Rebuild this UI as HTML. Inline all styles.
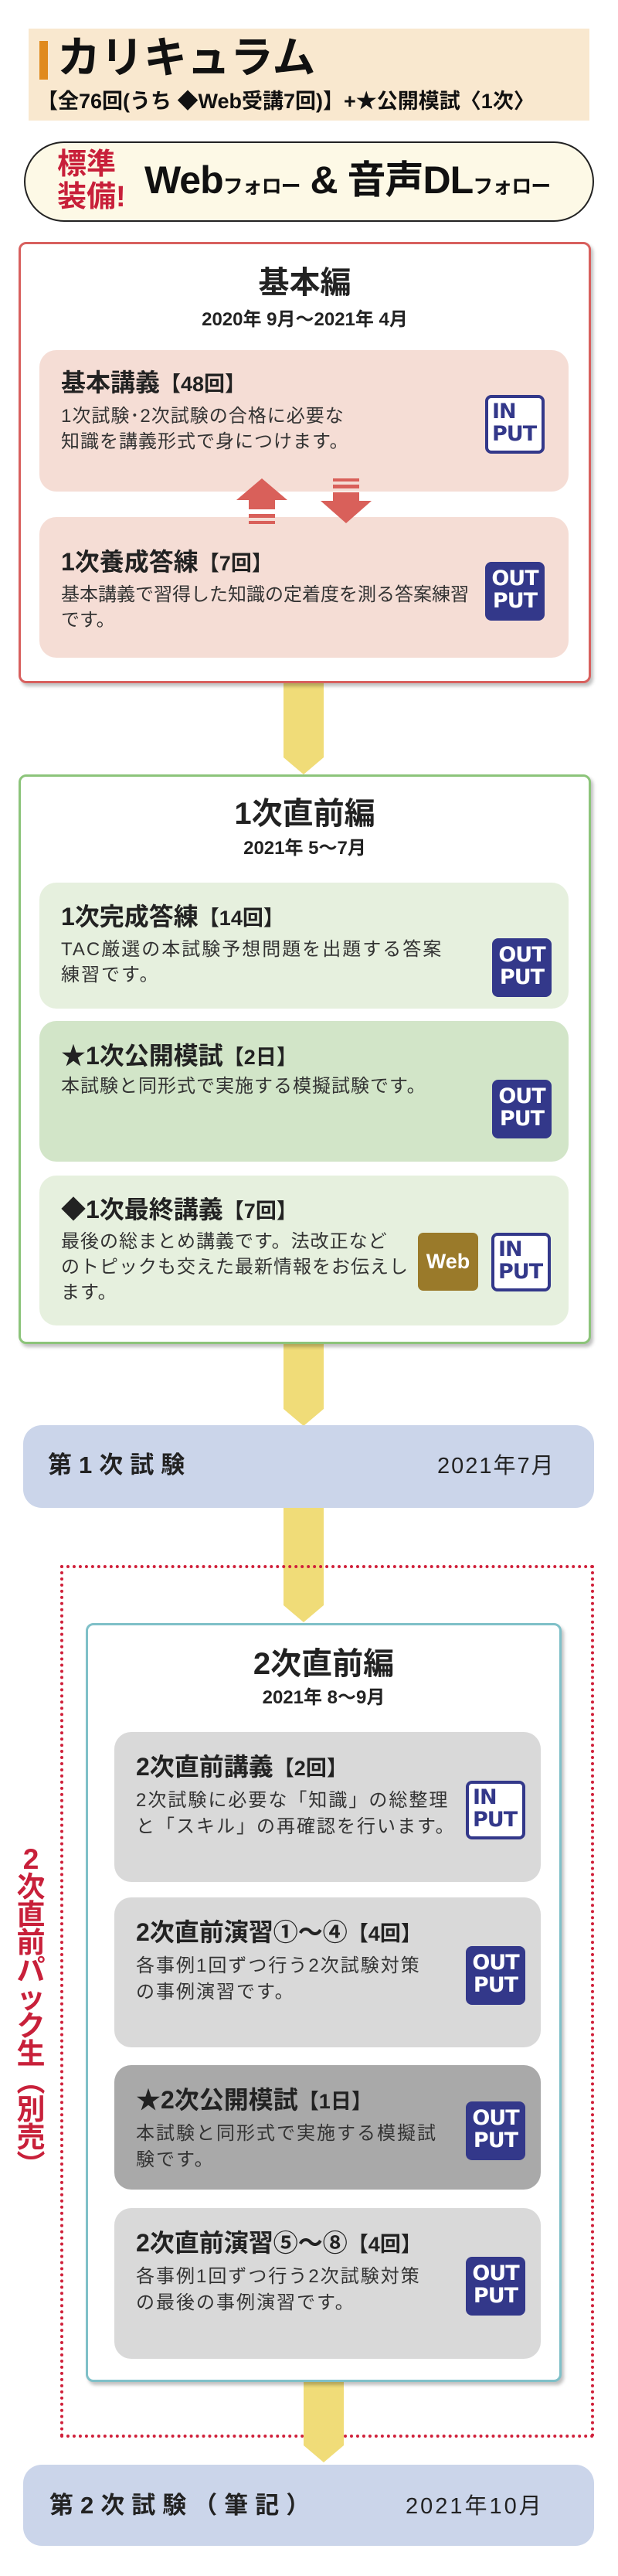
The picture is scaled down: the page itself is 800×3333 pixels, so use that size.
<!DOCTYPE html>
<html><head><meta charset="utf-8">
<style>
*{margin:0;padding:0;box-sizing:border-box}
body{width:800px;height:3333px;position:relative;background:#fff;font-family:"Liberation Sans","Noto Sans CJK JP",sans-serif;color:#222;overflow:hidden}
.a{position:absolute}
.b{font-weight:bold}
.conn{position:absolute;width:52px;background:#f0dc78}
.conn:after{content:"";position:absolute;left:0;bottom:-22px;border-left:26px solid transparent;border-right:26px solid transparent;border-top:22px solid #f0dc78}
.box{position:absolute;background:#fff;border-radius:10px;box-shadow:3px 4px 4px rgba(0,0,0,.25)}
.card{position:absolute;border-radius:22px}
.h{position:absolute;font-weight:bold;font-size:32px;line-height:34px;white-space:nowrap}
.h small{font-size:27px}
.t{position:absolute;font-size:24px;line-height:33px;color:#333;letter-spacing:1px;white-space:nowrap}
.title{position:absolute;left:0;width:100%;text-align:center;font-weight:bold;font-size:40px;line-height:44px}
.date{position:absolute;left:0;width:100%;text-align:center;font-weight:bold;font-size:24px;line-height:28px}
.bd{position:absolute;width:77px;height:76px;border-radius:8px;font-family:"DejaVu Sans",sans-serif;font-weight:bold;font-size:27px;line-height:29px;padding-top:7px;text-align:center;letter-spacing:-1px}
.out{background:#33388a;color:#fff}
.in{background:#fff;border:4px solid #33388a;color:#33388a;text-align:left;padding-left:5px;padding-top:3px}
</style></head><body>

<!-- header -->
<div class="a" style="left:37px;top:37px;width:726px;height:119px;background:#f9e8cf"></div>
<div class="a" style="left:51px;top:53px;width:11px;height:50px;background:#e08a1e"></div>
<div class="a b" style="left:74px;top:42px;font-size:56px;line-height:66px;color:#111">カリキュラム</div>
<div class="a" style="left:48px;top:114px;font-size:27px;line-height:34px;color:#111;white-space:nowrap;font-weight:bold">【全76回(うち ◆Web受講7回)】+★公開模試〈1次〉</div>

<!-- pill -->
<div class="a" style="left:31px;top:183px;width:738px;height:104px;border:2px solid #222;border-radius:52px;background:#fdf9e6"></div>
<div class="a b" style="left:74px;top:192px;font-size:38px;line-height:42px;color:#c8203a">標準<br>装備!</div>
<div class="a b" style="left:187px;top:203px;font-size:50px;line-height:60px;color:#111;white-space:nowrap;letter-spacing:-1px">Web<span style="font-size:26px">フォロー</span> &amp; 音声DL<span style="font-size:26px">フォロー</span></div>

<!-- connector 1 -->
<div class="conn" style="left:367px;top:880px;height:100px"></div>

<!-- 基本編 -->
<div class="box" style="left:24px;top:313px;width:741px;height:571px;border:3px solid #d8605e">
 <div class="title" style="top:28px">基本編</div>
 <div class="date" style="top:84px">2020年 9月～2021年 4月</div>
</div>
<div class="card" style="left:51px;top:453px;width:685px;height:183px;background:#f5ddd5"></div>
<div class="h" style="left:79px;top:478px">基本講義<small>【48回】</small></div>
<div class="t" style="left:79px;top:522px">1次試験･2次試験の合格に必要な<br>知識を講義形式で身につけます。</div>
<div class="bd in" style="left:628px;top:511px">IN<br>PUT</div>
<div class="card" style="left:51px;top:669px;width:685px;height:182px;background:#f5ddd5"></div>
<!-- arrows -->
<svg class="a" style="left:300px;top:615px" width="190" height="72">
 <polygon points="6,32 39,4 72,32 56,32 56,44 22,44 22,32" fill="#d9605a"/>
 <rect x="22" y="50" width="34" height="5" fill="#d9605a"/><rect x="22" y="59" width="34" height="4" fill="#d9605a"/>
 <rect x="131" y="4" width="34" height="4" fill="#d9605a"/><rect x="131" y="12" width="34" height="5" fill="#d9605a"/>
 <polygon points="131,22 165,22 165,33 181,33 148,62 115,33 131,33" fill="#d9605a"/>
</svg>
<div class="h" style="left:79px;top:710px">1次養成答練<small>【7回】</small></div>
<div class="t" style="left:79px;top:753px;letter-spacing:0">基本講義で習得した知識の定着度を測る答案練習<br>です。</div>
<div class="bd out" style="left:628px;top:727px">OUT<br>PUT</div>

<!-- connector 2 -->
<div class="conn" style="left:367px;top:1735px;height:88px"></div>

<!-- 1次直前編 -->
<div class="box" style="left:24px;top:1002px;width:741px;height:737px;border:3px solid #8cc47a">
 <div class="title" style="top:26px">1次直前編</div>
 <div class="date" style="top:79px">2021年 5～7月</div>
</div>
<div class="card" style="left:51px;top:1142px;width:685px;height:163px;background:#e6f0de"></div>
<div class="h" style="left:79px;top:1169px">1次完成答練<small>【14回】</small></div>
<div class="t" style="left:79px;top:1212px;letter-spacing:2px">TAC厳選の本試験予想問題を出題する答案<br>練習です。</div>
<div class="bd out" style="left:637px;top:1214px">OUT<br>PUT</div>
<div class="card" style="left:51px;top:1321px;width:685px;height:182px;background:#d2e5c8"></div>
<div class="h" style="left:79px;top:1349px">★1次公開模試<small>【2日】</small></div>
<div class="t" style="left:79px;top:1389px">本試験と同形式で実施する模擬試験です。</div>
<div class="bd out" style="left:637px;top:1397px">OUT<br>PUT</div>
<div class="card" style="left:51px;top:1521px;width:685px;height:194px;background:#e6f0de"></div>
<div class="h" style="left:79px;top:1548px">◆1次最終講義<small>【7回】</small></div>
<div class="t" style="left:79px;top:1590px">最後の総まとめ講義です。法改正など<br>のトピックも交えた最新情報をお伝えし<br>ます。</div>
<div class="a b" style="left:541px;top:1595px;width:78px;height:75px;border-radius:7px;background:#9a7a2a;color:#fff;font-size:27px;line-height:75px;text-align:center">Web</div>
<div class="bd in" style="left:636px;top:1595px">IN<br>PUT</div>

<!-- 第1次試験 -->
<div class="a" style="left:30px;top:1844px;width:739px;height:107px;border-radius:24px;background:#cbd5ea"></div>
<div class="a b" style="left:62px;top:1878px;font-size:31px;line-height:36px;letter-spacing:9px">第1次試験</div>
<div class="a" style="left:566px;top:1879px;font-size:29px;line-height:36px;letter-spacing:2px">2021年7月</div>

<!-- connector 3 -->
<div class="conn" style="left:367px;top:1951px;height:126px"></div>

<!-- dotted -->
<div class="a" style="left:78px;top:2025px;width:691px;height:1129px;border:4px dotted #d0203a"></div>
<div class="a b" style="left:19px;top:2388px;width:42px;font-size:37px;line-height:36px;color:#c8203a;text-align:center">2<br>次<br>直<br>前<br>パ<br>ッ<br>ク<br>生<br>︵<br>別<br>売<br>︶</div>

<!-- connector 4 -->
<div class="conn" style="left:393px;top:3060px;height:104px"></div>

<!-- 2次直前編 -->
<div class="box" style="left:111px;top:2100px;width:616px;height:982px;border:3px solid #7fc0c8">
 <div class="title" style="top:28px">2次直前編</div>
 <div class="date" style="top:80px">2021年 8～9月</div>
</div>
<div class="card" style="left:148px;top:2241px;width:552px;height:194px;background:#d9d9d9"></div>
<div class="h" style="left:176px;top:2269px">2次直前講義<small>【2回】</small></div>
<div class="t" style="left:176px;top:2313px;line-height:34px;letter-spacing:2px">2次試験に必要な「知識」の総整理<br>と「スキル」の再確認を行います。</div>
<div class="bd in" style="left:603px;top:2304px">IN<br>PUT</div>
<div class="card" style="left:148px;top:2455px;width:552px;height:194px;background:#d9d9d9"></div>
<div class="h" style="left:176px;top:2483px">2次直前演習①～④<small>【4回】</small></div>
<div class="t" style="left:176px;top:2527px;line-height:34px;letter-spacing:2px">各事例1回ずつ行う2次試験対策<br>の事例演習です。</div>
<div class="bd out" style="left:603px;top:2518px">OUT<br>PUT</div>
<div class="card" style="left:148px;top:2672px;width:552px;height:161px;background:#a9a9a9"></div>
<div class="h" style="left:176px;top:2700px">★2次公開模試<small>【1日】</small></div>
<div class="t" style="left:176px;top:2744px;line-height:34px;letter-spacing:2px">本試験と同形式で実施する模擬試<br>験です。</div>
<div class="bd out" style="left:603px;top:2719px">OUT<br>PUT</div>
<div class="card" style="left:148px;top:2857px;width:552px;height:195px;background:#d9d9d9"></div>
<div class="h" style="left:176px;top:2885px">2次直前演習⑤～⑧<small>【4回】</small></div>
<div class="t" style="left:176px;top:2929px;line-height:34px;letter-spacing:2px">各事例1回ずつ行う2次試験対策<br>の最後の事例演習です。</div>
<div class="bd out" style="left:603px;top:2920px">OUT<br>PUT</div>

<!-- 第2次試験 -->
<div class="a" style="left:30px;top:3189px;width:739px;height:105px;border-radius:24px;background:#cbd5ea"></div>
<div class="a b" style="left:64px;top:3224px;font-size:31px;line-height:36px;letter-spacing:9px;white-space:nowrap">第2次試験（筆記）</div>
<div class="a" style="left:525px;top:3225px;font-size:29px;line-height:36px;letter-spacing:3px">2021年10月</div>

</body></html>
